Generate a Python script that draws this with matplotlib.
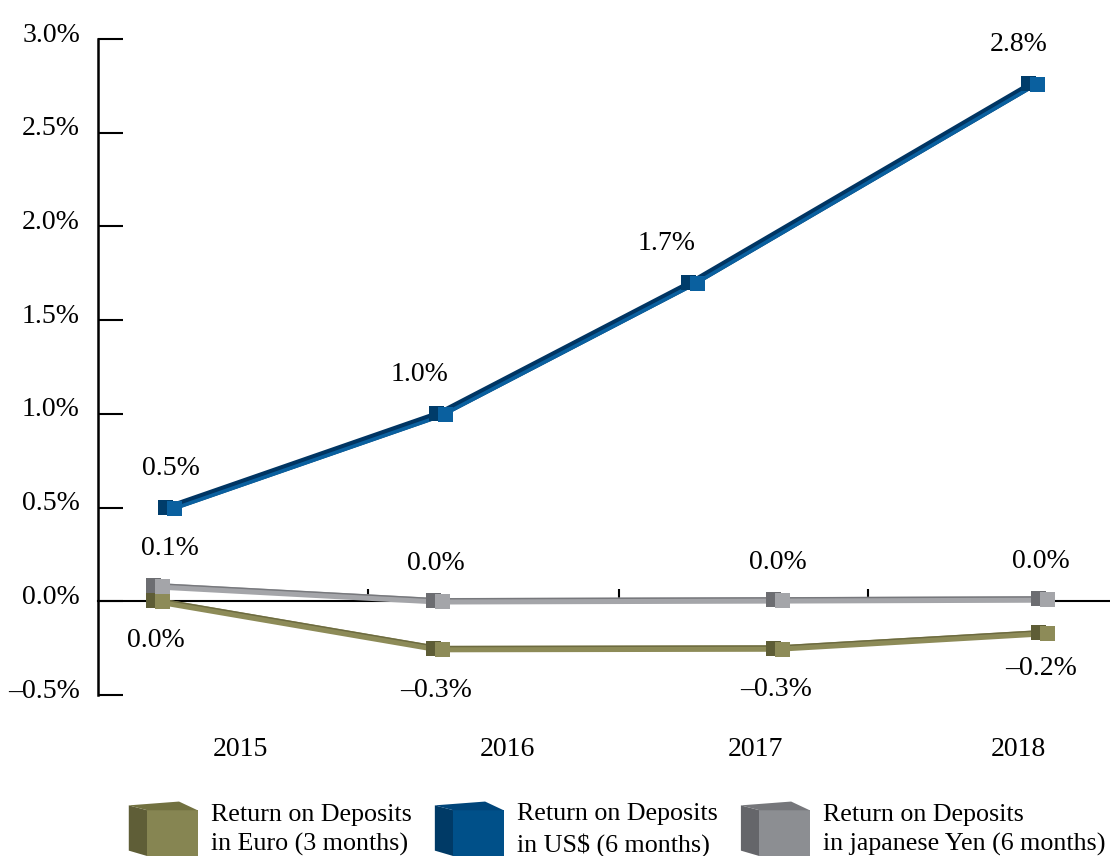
import matplotlib
matplotlib.use("Agg")
import matplotlib.pyplot as plt
import numpy as np
from matplotlib.transforms import offset_copy, ScaledTranslation
from matplotlib.legend_handler import HandlerBase
from matplotlib.patches import Polygon, Rectangle, Patch

plt.rcParams['font.family'] = ['Liberation Serif', 'DejaVu Serif']

# ---------------- data ----------------
years = ["2015", "2016", "2017", "2018"]
euro_3m = [0.00, -0.255, -0.252, -0.17]
usd_6m = [0.50, 1.00, 1.70, 2.76]
yen_6m = [0.08, 0.00, 0.005, 0.01]
series_labels = ["Return on Deposits\nin Euro (3 months)",
                 "Return on Deposits\nin US$ (6 months)",
                 "Return on Deposits\nin japanese Yen (6 months)"]
y_ticks = [-0.5, 0.0, 0.5, 1.0, 1.5, 2.0, 2.5, 3.0]

# ---------------- layout (pseudo-3D perspective positions) ----------------
x_euro_yen = [-0.34, 0.78, 2.14, 3.20]
x_usd = [-0.29, 0.79, 1.80, 3.16]
x_year_labels = [-0.012, 1.056, 2.048, 3.10]
x_boundaries = [0.5, 1.504, 2.5]

W, H = 1110, 856
fig = plt.figure(figsize=(W / 100, H / 100), dpi=100)
ax = fig.add_axes([98 / W, 1 - 695 / H, 1 - 98 / W, (695 - 39) / H])
ax.set_xlim(-0.58, 3.468)
ax.set_ylim(-0.5, 3.0)

for s in ["top", "right"]:
    ax.spines[s].set_visible(False)
ax.spines["left"].set_linewidth(1.8)
ax.spines["bottom"].set_position(("data", 0))
ax.spines["bottom"].set_linewidth(1.5)

ax.set_yticks(y_ticks)
ax.set_yticklabels([f"{v:.1f}%".replace("-", "\u2013") for v in y_ticks])
ax.tick_params(axis="y", direction="in", length=18, width=1.5, pad=13, labelsize=20)
for lab in ax.get_yticklabels():
    lab.set_transform(lab.get_transform() + ScaledTranslation(0, 7 / 100, fig.dpi_scale_trans))

ax.set_xticks(x_boundaries)
ax.tick_params(axis="x", direction="in", length=9, width=1.5, labelbottom=False)

sec = ax.secondary_xaxis("bottom")
sec.set_xticks(x_year_labels, labels=years)
sec.tick_params(length=0, pad=30, labelsize=20)
sec.spines["bottom"].set_visible(False)


def draw_ribbon_dark(xs, ys, dark, light, lw_px, zorder):
    ax.plot(xs, ys, color=dark, lw=lw_px * 0.72, solid_capstyle="butt", zorder=zorder)
    tr = offset_copy(ax.transData, fig=fig, x=0, y=-lw_px * 0.3, units="dots")
    ax.plot(xs, ys, color=light, lw=lw_px * 0.35, solid_capstyle="butt",
            transform=tr, zorder=zorder + 0.1)


def draw_ribbon_light(xs, ys, dark, light, lw_px, zorder):
    ax.plot(xs, ys, color=light, lw=lw_px * 0.72, solid_capstyle="butt", zorder=zorder)
    tr = offset_copy(ax.transData, fig=fig, x=0, y=lw_px * 0.38, units="dots")
    ax.plot(xs, ys, color=dark, lw=1.4 * 0.72, solid_capstyle="butt",
            transform=tr, zorder=zorder + 0.1)


def draw_cubes(xs, ys, edge, light, zorder):
    trd = offset_copy(ax.transData, fig=fig, x=-5, y=1, units="dots")
    ax.plot(xs, ys, ls="none", marker="s", ms=15 * 0.72, mfc=edge, mew=0,
            transform=trd, zorder=zorder + 0.2)
    trl = offset_copy(ax.transData, fig=fig, x=4, y=0, units="dots")
    ax.plot(xs, ys, ls="none", marker="s", ms=15 * 0.72, mfc=light, mew=0,
            transform=trl, zorder=zorder + 0.3)


# colours
c_euro = dict(dark="#6c6a40", light="#8d8b58", edge="#5e5d36")
c_usd = dict(dark="#003563", light="#0a609f", edge="#003c6a")
c_yen = dict(dark="#77787c", light="#a4a5a9", edge="#6c6d71")

draw_ribbon_light(x_euro_yen, euro_3m, c_euro["dark"], c_euro["light"], 6.5, 3)
draw_cubes(x_euro_yen, euro_3m, c_euro["edge"], c_euro["light"], 3)
draw_ribbon_light(x_euro_yen, yen_6m, c_yen["dark"], c_yen["light"], 6.5, 4)
draw_cubes(x_euro_yen, yen_6m, c_yen["edge"], c_yen["light"], 4)
draw_ribbon_dark(x_usd, usd_6m, c_usd["dark"], c_usd["light"], 7.5, 5)
draw_cubes(x_usd, usd_6m, c_usd["edge"], c_usd["light"], 5)


def fmt(v):
    s = f"{v:.1f}%"
    if s.startswith("-"):
        s = "\u2013" + s[1:]
    if s == "\u20130.0%":
        s = "0.0%"
    return s


usd_dx = [0, -21, -26, -14]
yen_dx = [12, -2, 0, -2]
euro_dy = [-39, -41, -41, -35]
for i in range(4):
    ax.annotate(fmt(usd_6m[i]), (x_usd[i], usd_6m[i]), xytext=(usd_dx[i] * 0.72, 39 * 0.72),
                textcoords="offset points", ha="center", va="center", fontsize=20)
    ax.annotate(fmt(yen_6m[i]), (x_euro_yen[i], yen_6m[i]), xytext=(yen_dx[i] * 0.72, 38 * 0.72),
                textcoords="offset points", ha="center", va="center", fontsize=20)
    ax.annotate(fmt(euro_3m[i]), (x_euro_yen[i], euro_3m[i]), xytext=(-2 * 0.72, euro_dy[i] * 0.72),
                textcoords="offset points", ha="center", va="center", fontsize=20)


class Box3DHandler(HandlerBase):
    def __init__(self, front, side, top):
        super().__init__()
        self.front, self.side, self.top = front, side, top

    def create_artists(self, legend, orig_handle, xdescent, ydescent, width, height, fontsize, trans):
        x0, y0 = -xdescent, -ydescent - 3.5
        w, h = width, height + ydescent
        s = 0.27 * w
        side = Polygon([(x0, y0 + 0.1 * h), (x0 + s, y0), (x0 + s, y0 + 0.84 * h), (x0, y0 + 0.93 * h)],
                       closed=True, fc=self.side, ec="none", transform=trans)
        front = Rectangle((x0 + s, y0), w - s, 0.84 * h, fc=self.front, ec="none", transform=trans)
        top = Polygon([(x0, y0 + 0.93 * h), (x0 + s, y0 + 0.84 * h), (x0 + w, y0 + 0.84 * h),
                       (x0 + w - s, y0 + 1.0 * h)], closed=True, fc=self.top, ec="none",
                      transform=trans)
        return [side, front, top]


handles = [Patch(), Patch(), Patch()]
hmap = {
    handles[0]: Box3DHandler("#868552", "#5f5e37", "#727140"),
    handles[1]: Box3DHandler("#005089", "#003a66", "#00457a"),
    handles[2]: Box3DHandler("#8c8e92", "#65666a", "#76777b"),
}
leg = fig.legend(handles, series_labels, handler_map=hmap, loc="center",
                 bbox_to_anchor=(617 / W, 1 - 830 / H), bbox_transform=fig.transFigure, ncol=3,
                 frameon=False, fontsize=18.7, handlelength=2.65, handleheight=2.1,
                 handletextpad=0.5, columnspacing=0.9, borderpad=0, borderaxespad=0)
for t in leg.get_texts():
    t.set_linespacing(1.4)

fig.savefig("out.png", dpi=100)
